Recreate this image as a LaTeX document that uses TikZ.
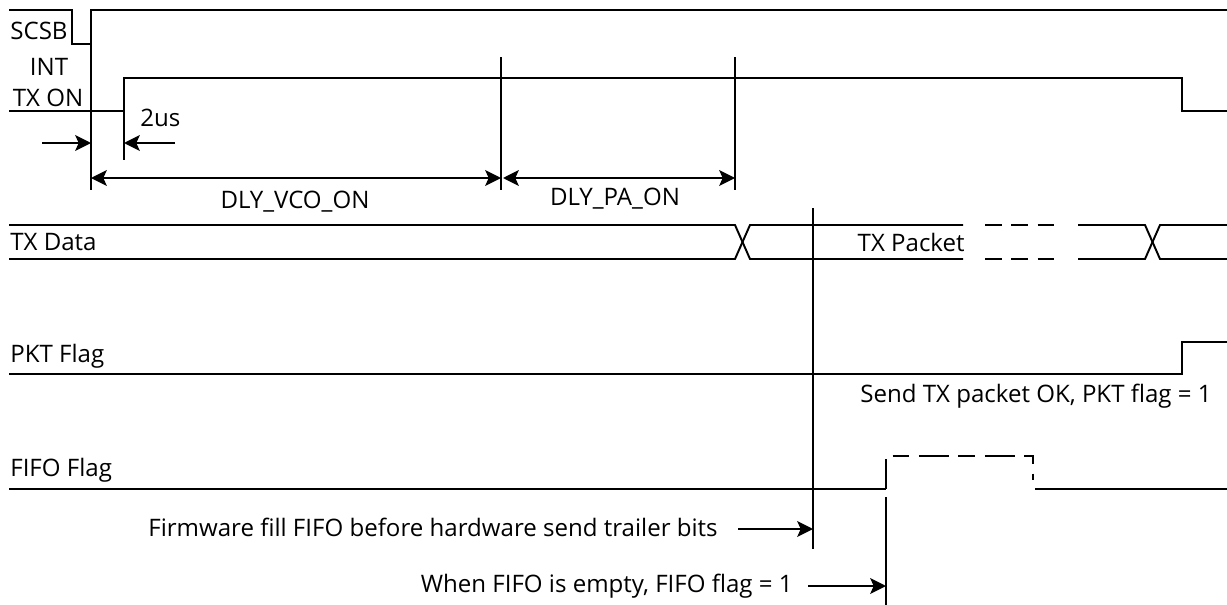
\documentclass[tikz,border=0pt]{standalone}
\usepackage{fontspec}
\setmainfont{Open Sans}
\usetikzlibrary{arrows.meta}
\usetikzlibrary{calc}
\tikzset{
  every node/.style = {font = \fontsize{13.7}{15}\selectfont, inner sep = 0pt}
}
\tikzset{
    >={Stealth[length=9pt, width=9pt, inset=2pt]}
}
\tikzset{
  sig/.style = {line width=1.1pt},
  dashsig/.style = {line width=1.1pt, dash pattern=on 9.5pt off 5.5pt}
}

\begin{document}
\begin{tikzpicture}[x=0.02cm, y=-0.02cm]
\useasboundingbox (0,0) rectangle (1227,605);
\def\xs{9}
\def\xe{1227}
\def\xcs{91}
\def\xtx{124}
\def\xvco{501}
\def\xpa{735}
\def\xfw{813}
\def\xff{886}

\coordinate (A) at (\xcs,178);
\coordinate (B) at (\xvco,178);
\coordinate (C) at (503,178);
\coordinate (D) at (\xpa,178);
\coordinate (E) at (42,143);
\coordinate (F) at (\xcs,143);
\coordinate (G) at (175,143);
\coordinate (H) at (\xtx,143);
\coordinate (K) at (738,529);
\coordinate (L) at (\xfw,529);
\coordinate (M) at (808,586);
\coordinate (N) at (\xff,586);

% Signal names
\node[anchor=west] (scsb) at (10,31) {SCSB};
\node (int) at (49,67) {INT};
\node (txon) at (48,98) {TX ON};
\node[anchor=west] (txdata) at (10,242) {TX Data};
\node[anchor=west] (pkt) at (10,356) {PKT Flag};
\node[anchor=west] (fifo) at (10,470) {FIFO Flag};

% SCSB and TX ON
\draw[sig] (\xs,10) -| (72,44) -| (\xcs,10) -- (\xe,10);
\draw[sig] (\xs,111) -| (\xtx,78) -| (1182,111) -- (\xe,111);

% Marker lines
\draw[sig] (\xcs,10) -- (\xcs,190);
\draw[sig] (\xtx,78) -- (\xtx,160);
\draw[sig] (\xvco,57) -- (\xvco,190);
\draw[sig] (\xpa,57) -- (\xpa,190);
\draw[sig] (\xfw,208) -- (\xfw,549);
\draw[sig] (\xff,497) -- (\xff,605);

% Timing arrows
\draw[sig, ->] (E) -- (F);
\draw[sig, ->] (G) -- (H);
\node[anchor=west] (tus) at (140,118) {2us};
\draw[sig, <->] (A) -- (B);
\node (vco) at (295,202) {DLY\_VCO\_ON};
\draw[sig, <->] (C) -- (D);
\node (pa) at (615,199) {DLY\_PA\_ON};

% TX Data bus
\draw[sig] (\xs,225) -- (\xpa,225) -- (750,259) -- (963,259);
\draw[sig] (\xs,259) -- (\xpa,259) -- (750,225) -- (963,225);
\draw[dashsig] (985,225) -- (1057,225);
\draw[dashsig] (985,259) -- (1057,259);
\draw[sig] (1078,225) -- (1145,225) -- (1160,259) -- (\xe,259);
\draw[sig] (1078,259) -- (1145,259) -- (1160,225) -- (\xe,225);
\node[anchor=east] (txpkt) at (965,242) {TX Packet};

% PKT Flag
\draw[sig] (\xs,374) -| (1182,342) -- (\xe,342);
\node[anchor=west] (pktok) at (860,396) {Send TX packet OK, PKT flag = 1};

% FIFO Flag
\draw[sig] (\xs,489) -- (\xff,489);
\draw[sig, dash pattern=on 17pt off 5.5pt on 9.5pt off 5.5pt] (\xff,489) |- (1033,456) -- (1033,480);
\draw[sig] (1035,489) -- (\xe,489);

% Notes
\node[anchor=east] (fill) at (718,527) {Firmware fill FIFO before hardware send trailer bits};
\draw[sig, ->] (K) -- (L);
\node[anchor=east] (empty) at (793,586) {When FIFO is empty, FIFO flag = 1};
\draw[sig, ->] (M) -- (N);
\end{tikzpicture}
\end{document}
